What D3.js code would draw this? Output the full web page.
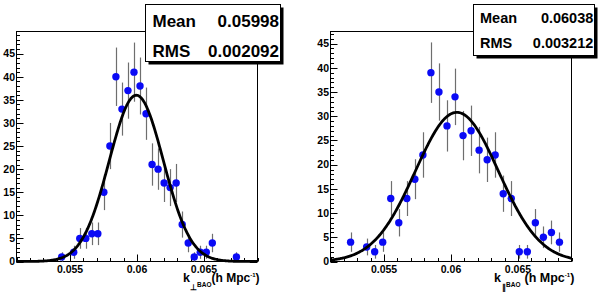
<!DOCTYPE html>
<html>
<head>
<meta charset="utf-8">
<script src="https://cdn.jsdelivr.net/npm/d3@7"></script>
<style>
  html, body { margin: 0; padding: 0; background: #fff; }
  svg { display: block; }
  text { font-family: "Liberation Sans", Arial, Helvetica, sans-serif; font-weight: bold; fill: #000; }
</style>
</head>
<body>
<svg id="chart" width="600" height="293"></svg>
<script>
// ---------- data ----------
const xDomain = [0.051, 0.069];

// left panel: k_perp (bin centres, counts)
const leftX = [0.054375, 0.055275, 0.055725, 0.056175, 0.056625, 0.057075, 0.057525, 0.057975,
  0.058425, 0.058875, 0.059325, 0.059775, 0.060225, 0.060675, 0.061125, 0.061575, 0.062025,
  0.062475, 0.062925, 0.063375, 0.063825, 0.064275, 0.064725, 0.065175, 0.065625, 0.067425];
const leftCounts = [1, 2, 5, 5, 6, 6, 15, 25, 40, 33, 37, 41, 38, 32, 21, 20, 17, 16, 17, 8, 4, 1, 2, 2, 4, 1];
const leftFit = [36.0, 0.05995, 0.00202];   // amplitude, mean, sigma
const leftStatLabels = ["Mean", "RMS"];
const leftStatValues = ["0.05998", "0.002092"];

// right panel: k_parallel
const rightX = [0.0525, 0.0537, 0.0543, 0.0549, 0.0555, 0.0561, 0.0567, 0.0573, 0.0579, 0.0585,
  0.0591, 0.0597, 0.0603, 0.0609, 0.0615, 0.0621, 0.0627, 0.0633, 0.0639, 0.0645, 0.0651,
  0.0657, 0.0663, 0.0669, 0.0675, 0.0681];
const rightCounts = [4, 3, 2, 4, 13, 8, 13, 17, 22, 39, 35, 28, 34, 26, 27, 23, 21, 22, 14, 13, 2, 2, 8, 5, 6, 4];
const rightFit = [30.8, 0.06044, 0.00310];
const rightStatLabels = ["Mean", "RMS"];
const rightStatValues = ["0.06038", "0.003212"];

const xTickValues = [0.055, 0.06, 0.065];
const xTickLabels = ["0.055", "0.06", "0.065"];
const yTickValues = [0, 5, 10, 15, 20, 25, 30, 35, 40, 45];
const yTickLabels = ["0", "5", "10", "15", "20", "25", "30", "35", "40", "45"];

// ---------- drawing ----------
const svg = d3.select("#chart");

const panels = [
  { x0: 16.5, x1: 257.5, y0: 31.5, y1: 261.5, yMax: 49.8, xs: leftX, ys: leftCounts, fit: leftFit,
    box: { x: 145.5, y: 4.5, w: 135, h: 57, font: 17, labelX: 152.5, valueX: 279, rows: [26.7, 56.7] },
    statLabels: leftStatLabels, statValues: leftStatValues, sym: "\u22A5",
    title: { kx: 183, symX: 190.3, baoX: 197, unitX: 211.5, unitFont: 12 } },
  { x0: 330.5, x1: 571.5, y0: 31.5, y1: 261.5, yMax: 47.5, xs: rightX, ys: rightCounts, fit: rightFit,
    box: { x: 473.5, y: 4.5, w: 121, h: 51, font: 14.5, labelX: 480, valueX: 593.3, rows: [22.7, 47.7] },
    statLabels: rightStatLabels, statValues: rightStatValues, sym: "\u2225",
    title: { kx: 494, symX: 501.5, baoX: 506, unitX: 524.5, unitFont: 12.5 } }
];

panels.forEach(p => {
  const x = d3.scaleLinear().domain(xDomain).range([p.x0, p.x1]);
  const y = d3.scaleLinear().domain([0, p.yMax]).range([p.y1, p.y0]);
  const g = svg.append("g");

  // frame
  g.append("rect").attr("x", p.x0).attr("y", p.y0)
    .attr("width", p.x1 - p.x0).attr("height", p.y1 - p.y0)
    .attr("fill", "none").attr("stroke", "#000").attr("stroke-width", 1);

  // y ticks (inward)
  const yMinor = d3.range(0, Math.floor(p.yMax) + 1, 1);
  g.selectAll(".ymin").data(yMinor).enter().append("line")
    .attr("x1", p.x0).attr("x2", d => p.x0 + (d % 5 === 0 ? 7 : 3.5))
    .attr("y1", d => Math.round(y(d)) + 0.5).attr("y2", d => Math.round(y(d)) + 0.5)
    .attr("stroke", "#000").attr("stroke-width", 1);
  g.selectAll(".ylab").data(yTickValues).enter().append("text")
    .attr("x", p.x0 - 1.5).attr("y", d => y(d)).attr("dy", "0.36em")
    .attr("text-anchor", "end").style("font-size", "10.5px")
    .text((d, i) => yTickLabels[i]);

  // x ticks (inward)
  const xMinor = d3.range(51, 70).map(v => v / 1000);
  g.selectAll(".xmin").data(xMinor).enter().append("line")
    .attr("x1", d => Math.round(x(d)) + 0.5).attr("x2", d => Math.round(x(d)) + 0.5)
    .attr("y1", p.y1)
    .attr("y2", d => p.y1 - (xTickValues.some(t => Math.abs(t - d) < 1e-9) ? 7 : 3.5))
    .attr("stroke", "#000").attr("stroke-width", 1);
  g.selectAll(".xlab").data(xTickValues).enter().append("text")
    .attr("x", d => x(d)).attr("y", 273)
    .attr("text-anchor", "middle").style("font-size", "10.5px")
    .text((d, i) => xTickLabels[i]);

  // error bars
  g.selectAll(".err").data(p.xs).enter().append("line")
    .attr("x1", d => Math.round(x(d)) + 0.5).attr("x2", d => Math.round(x(d)) + 0.5)
    .attr("y1", (d, i) => y(p.ys[i] - Math.sqrt(p.ys[i])))
    .attr("y2", (d, i) => y(p.ys[i] + Math.sqrt(p.ys[i])))
    .attr("stroke", "#6e6e6e").attr("stroke-width", 1.2);

  // markers
  g.selectAll(".pt").data(p.xs).enter().append("circle")
    .attr("cx", d => x(d)).attr("cy", (d, i) => y(p.ys[i]))
    .attr("r", 3.7).attr("fill", "#0a0af5");

  // gaussian fit
  const [A, mu, sig] = p.fit;
  const fx = d3.range(0, 301).map(i => xDomain[0] + (xDomain[1] - xDomain[0]) * i / 300);
  const line = d3.line().x(d => x(d)).y(d => y(A * Math.exp(-0.5 * Math.pow((d - mu) / sig, 2))))
    .curve(d3.curveLinear);
  g.append("path").datum(fx).attr("d", line)
    .attr("fill", "none").attr("stroke", "#000").attr("stroke-width", 2.8)
    .attr("stroke-linejoin", "round");

  // stats box with shadow
  const b = p.box;
  g.append("rect").attr("x", b.x + 3).attr("y", b.y + 3).attr("width", b.w).attr("height", b.h)
    .attr("fill", "#000");
  g.append("rect").attr("x", b.x).attr("y", b.y).attr("width", b.w).attr("height", b.h)
    .attr("fill", "#fff").attr("stroke", "#000").attr("stroke-width", 1);
  p.statLabels.forEach((lab, i) => {
    g.append("text").attr("x", b.labelX).attr("y", b.rows[i])
      .style("font-size", b.font + "px").text(lab);
    g.append("text").attr("x", b.valueX).attr("y", b.rows[i]).attr("text-anchor", "end")
      .style("font-size", b.font + "px").text(p.statValues[i]);
  });

  // axis title
  const t = p.title;
  const tt = g.append("text").attr("x", t.kx).attr("y", 282).style("font-size", "12.5px");
  tt.append("tspan").text("k");
  tt.append("tspan").attr("x", t.symX).attr("y", 290).style("font-size", "8px").text(p.sym);
  tt.append("tspan").attr("x", t.baoX).attr("y", 286.5).style("font-size", "6.5px").text("BAO");
  tt.append("tspan").attr("x", t.unitX).attr("y", 282).style("font-size", t.unitFont + "px").text("(h Mpc");
  tt.append("tspan").attr("dy", -5).style("font-size", "6px").text("-1");
  tt.append("tspan").attr("dy", 5).style("font-size", t.unitFont + "px").text(")");
});
</script>
</body>
</html>
